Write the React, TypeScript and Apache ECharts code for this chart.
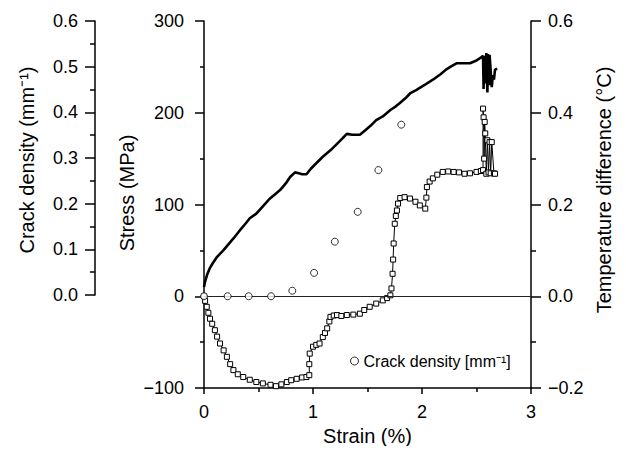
import React, { useEffect, useRef } from 'react';
import * as echarts from 'echarts';

const FONT = '"Liberation Sans", Arial, Helvetica, sans-serif';

// Stress–strain curve (strain %, stress MPa)
const stressStrain = [0, 0.01, 0.03, 0.055, 0.08, 0.12, 0.177, 0.22, 0.27, 0.33, 0.38, 0.42, 0.48, 0.54, 0.6, 0.65, 0.7, 0.75, 0.79, 0.835, 0.87, 0.9, 0.94, 0.98, 1.03, 1.09, 1.16, 1.22, 1.27, 1.31, 1.36, 1.43, 1.48, 1.53, 1.58, 1.64, 1.71, 1.76, 1.8, 1.85, 1.89, 1.95, 2.02, 2.1, 2.17, 2.22, 2.26, 2.32, 2.38, 2.44, 2.5, 2.54, 2.56, 2.565, 2.57, 2.58, 2.59, 2.6, 2.605, 2.615, 2.62, 2.63, 2.635, 2.64, 2.65, 2.66, 2.67, 2.69];
const stressValues = [10, 16, 24, 31, 36, 43, 50, 56, 63, 72, 79, 85, 90, 98, 106, 111, 116, 123, 130, 135, 134, 133, 133, 139, 145, 152, 159, 166, 172, 177, 176, 176, 181, 186, 192, 196, 203, 207, 211, 216, 221, 225, 230, 236, 242, 247, 250, 254, 254, 254, 257, 260, 262, 226, 262, 232, 265, 222, 264, 230, 263, 246, 236, 228, 241, 236, 247, 248];

// Temperature difference (strain %, °C)
const tempStrain = [0, 0.01, 0.025, 0.04, 0.055, 0.075, 0.1, 0.12, 0.147, 0.18, 0.21, 0.24, 0.27, 0.31, 0.36, 0.42, 0.48, 0.54, 0.61, 0.66, 0.71, 0.76, 0.8, 0.85, 0.9, 0.94, 0.966, 0.966, 0.97, 1.0, 1.03, 1.06, 1.09, 1.11, 1.13, 1.15, 1.16, 1.19, 1.22, 1.26, 1.31, 1.37, 1.43, 1.47, 1.52, 1.58, 1.64, 1.68, 1.71, 1.72, 1.73, 1.735, 1.74, 1.75, 1.76, 1.77, 1.78, 1.8, 1.84, 1.89, 1.94, 1.98, 2.03, 2.04, 2.045, 2.07, 2.1, 2.14, 2.19, 2.24, 2.29, 2.34, 2.39, 2.44, 2.5, 2.54, 2.56, 2.56, 2.565, 2.57, 2.575, 2.58, 2.59, 2.6, 2.61, 2.62, 2.63, 2.64, 2.66, 2.67];
const tempValues = [0, -0.01, -0.023, -0.036, -0.049, -0.06, -0.074, -0.088, -0.103, -0.118, -0.132, -0.148, -0.161, -0.17, -0.176, -0.182, -0.187, -0.19, -0.193, -0.196, -0.192, -0.187, -0.183, -0.18, -0.177, -0.176, -0.172, -0.148, -0.125, -0.11, -0.106, -0.103, -0.089, -0.08, -0.07, -0.055, -0.045, -0.042, -0.041, -0.043, -0.041, -0.04, -0.038, -0.03, -0.023, -0.016, -0.009, -0.004, 0.002, 0.017, 0.049, 0.08, 0.115, 0.158, 0.175, 0.187, 0.202, 0.214, 0.216, 0.213, 0.206, 0.198, 0.191, 0.215, 0.238, 0.25, 0.257, 0.265, 0.271, 0.272, 0.271, 0.27, 0.267, 0.268, 0.271, 0.273, 0.275, 0.409, 0.39, 0.3, 0.38, 0.355, 0.267, 0.34, 0.27, 0.336, 0.268, 0.336, 0.268, 0.267];

// Crack density (strain %, mm^-1)
const crackStrain = [0, 0.217, 0.41, 0.615, 0.81, 1.01, 1.2, 1.41, 1.6, 1.81];
const crackValues = [0, 0, 0, 0, 0.012, 0.051, 0.119, 0.184, 0.275, 0.374];

const strainTicks = { min: 0, max: 3, interval: 1 };
const stressTicks = { min: -100, max: 300, interval: 100 };
const tempTicks = { min: -0.2, max: 0.6, interval: 0.2 };
const crackTicks = { min: 0, max: 0.6, interval: 0.1 };

const zip = (xs: number[], ys: number[]) => xs.map((x, i) => [x, ys[i]]);
const minus = (s: string) => s.replace('-', '\u2212');
const fmt1 = (v: number) => (Math.abs(v) < 1e-9 ? '0.0' : minus(v.toFixed(1)));

const axisLine = { show: true, onZero: false, lineStyle: { color: '#000', width: 1.5 } };
const tickStyle = { color: '#000', width: 1.5 };
const labelStyle = { color: '#000', fontSize: 18, fontFamily: FONT };

export default function App() {
  const ref = useRef<HTMLDivElement>(null);
  useEffect(() => {
    if (!ref.current) return;
    const chart = echarts.init(ref.current, null, { renderer: 'svg' });
    const option: any = {
      animation: false,
      backgroundColor: '#fff',
      textStyle: { fontFamily: FONT, color: '#000' },
      grid: [
        { left: 204, top: 21, width: 327, height: 367 },
        { left: 95, top: 21, width: 1, height: 274 },
      ],
      legend: {
        left: 345,
        top: 348,
        itemWidth: 8,
        itemHeight: 8,
        icon: 'circle',
        selectedMode: false,
        itemStyle: { color: '#fff', borderColor: '#000', borderWidth: 1 },
        textStyle: { fontSize: 16, color: '#000', fontFamily: FONT },
        data: ['Crack density [mm\u207B\u00B9]'],
      },
      xAxis: [
        {
          gridIndex: 0,
          type: 'value',
          ...strainTicks,
          name: 'Strain (%)',
          nameLocation: 'middle',
          nameGap: 36,
          nameTextStyle: { fontSize: 20, color: '#000', fontFamily: FONT },
          axisLine,
          axisTick: { show: true, length: 6, lineStyle: tickStyle },
          minorTick: { show: true, splitNumber: 2, length: 4, lineStyle: tickStyle },
          axisLabel: { ...labelStyle, margin: 15 },
          splitLine: { show: false },
          minorSplitLine: { show: false },
        },
        { gridIndex: 1, type: 'value', min: 0, max: 1, show: false },
      ],
      yAxis: [
        {
          gridIndex: 0,
          type: 'value',
          position: 'left',
          ...stressTicks,
          axisLine,
          axisTick: { show: true, length: 9, lineStyle: tickStyle },
          minorTick: { show: true, splitNumber: 2, length: 4, lineStyle: tickStyle },
          axisLabel: { ...labelStyle, margin: 20, formatter: (v: number) => minus(String(v)) },
          splitLine: { show: false },
          minorSplitLine: { show: false },
        },
        {
          gridIndex: 0,
          type: 'value',
          position: 'right',
          ...tempTicks,
          axisLine,
          axisTick: { show: true, length: 10, lineStyle: tickStyle },
          minorTick: { show: true, splitNumber: 2, length: 5, lineStyle: tickStyle },
          axisLabel: { ...labelStyle, margin: 17, formatter: fmt1 },
          splitLine: { show: false },
          minorSplitLine: { show: false },
        },
        {
          gridIndex: 0,
          type: 'value',
          position: 'right',
          min: -0.2,
          max: 0.6,
          show: false,
          splitLine: { show: false },
        },
        {
          gridIndex: 1,
          type: 'value',
          position: 'left',
          ...crackTicks,
          axisLine,
          axisTick: { show: true, length: 10, lineStyle: tickStyle },
          minorTick: { show: true, splitNumber: 2, length: 5, lineStyle: tickStyle },
          axisLabel: { ...labelStyle, margin: 17, formatter: fmt1 },
          splitLine: { show: false },
          minorSplitLine: { show: false },
        },
      ],
      graphic: [
        {
          type: 'text',
          x: 27,
          y: 160,
          rotation: Math.PI / 2,
          style: {
            text: 'Crack density (mm\u207B\u00B9)',
            fontSize: 20,
            fontFamily: FONT,
            fill: '#000',
            align: 'center',
            verticalAlign: 'middle',
            textAlign: 'center',
            textVerticalAlign: 'middle',
          },
        },
        {
          type: 'text',
          x: 127,
          y: 193,
          rotation: Math.PI / 2,
          style: {
            text: 'Stress (MPa)',
            fontSize: 20,
            fontFamily: FONT,
            fill: '#000',
            align: 'center',
            verticalAlign: 'middle',
            textAlign: 'center',
            textVerticalAlign: 'middle',
          },
        },
        {
          type: 'text',
          x: 604,
          y: 190,
          rotation: Math.PI / 2,
          style: {
            text: 'Temperature difference (\u00B0C)',
            fontSize: 20,
            fontFamily: FONT,
            fill: '#000',
            align: 'center',
            verticalAlign: 'middle',
            textAlign: 'center',
            textVerticalAlign: 'middle',
          },
        },
      ],
      series: [
        {
          name: 'Stress',
          type: 'line',
          xAxisIndex: 0,
          yAxisIndex: 0,
          data: zip(stressStrain, stressValues),
          showSymbol: false,
          symbol: 'none',
          lineStyle: { color: '#000', width: 2.6 },
          z: 3,
          markLine: {
            silent: true,
            symbol: ['none', 'none'],
            label: { show: false },
            lineStyle: { color: '#222', width: 1, type: 'solid' },
            data: [{ yAxis: 0 }],
          },
        },
        {
          name: 'Temperature difference',
          type: 'line',
          xAxisIndex: 0,
          yAxisIndex: 1,
          data: zip(tempStrain, tempValues),
          symbol: 'rect',
          symbolSize: 5,
          showAllSymbol: true,
          lineStyle: { color: '#000', width: 1 },
          itemStyle: { color: '#fff', borderColor: '#000', borderWidth: 1 },
          z: 4,
        },
        {
          name: 'Crack density [mm\u207B\u00B9]',
          type: 'scatter',
          xAxisIndex: 0,
          yAxisIndex: 2,
          data: zip(crackStrain, crackValues),
          symbol: 'circle',
          symbolSize: 7,
          itemStyle: { color: '#fff', borderColor: '#000', borderWidth: 1 },
          z: 5,
        },
        {
          type: 'line',
          xAxisIndex: 1,
          yAxisIndex: 3,
          data: [],
        },
      ],
    };
    chart.setOption(option);
    return () => chart.dispose();
  }, []);
  return <div ref={ref} style={{ width: 626, height: 454, margin: -8 }} />;
}
